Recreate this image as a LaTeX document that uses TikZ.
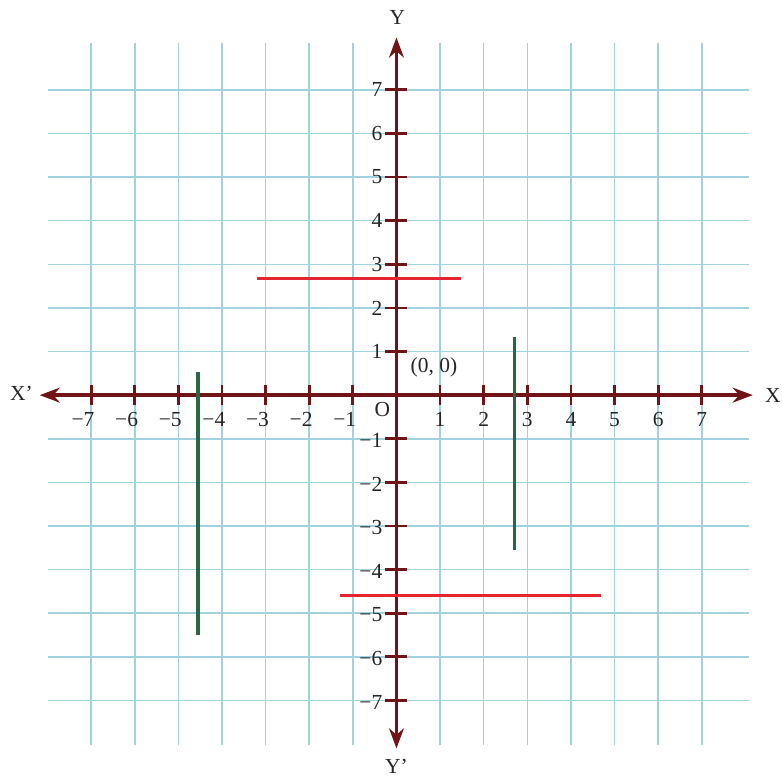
\documentclass[tikz,border=0pt]{standalone}
\usepackage{fontspec}
\setmainfont{Liberation Serif}
\usetikzlibrary{arrows.meta,positioning,calc}
\definecolor{gridblue}{RGB}{160,210,224}
\definecolor{axisred}{RGB}{112,20,24}
\definecolor{linered}{RGB}{228,36,46}
\definecolor{linegreen}{RGB}{38,104,70}

\begin{document}
\begin{tikzpicture}[>={Stealth[length=4.6mm,width=3.4mm]}, font=\fontsize{14}{16}\selectfont]
    \tikzset{
        gridline/.style={draw=gridblue, line width=1pt},
        axis/.style={draw=axisred, line width=2.4pt, <->},
        tickmark/.style={draw=axisred, line width=1.8pt},
        redline/.style={draw=linered, line width=2pt},
        greenline/.style={draw=linegreen, line width=2pt},
        numlbl/.style={inner sep=0.5pt, text=black!85}
    }
    \useasboundingbox (-9.09,-8.81) rectangle (8.84,9.06);

    % grid
    \foreach \i in {-7,...,7} {
        \draw [gridline] (\i,-8.03) -- (\i,8.08);
        \draw [gridline] (-8.0,\i) -- (8.08,\i);
    }

    % axes
    \coordinate (xneg) at (-8.18,0);
    \coordinate (xpos) at (8.17,0);
    \coordinate (ypos) at (0,8.2);
    \coordinate (yneg) at (0,-8.1);
    \node [numlbl] (xl) at (-8.6,0.04) {X'};
    \node [numlbl] (xr) at (8.63,0) {X};
    \node [numlbl] (yt) at (0.02,8.66) {Y};
    \node [numlbl] (yb) at (0,-8.5) {Y'};
    \draw [axis] (xneg) -- (xpos);
    \draw [axis] (yneg) -- (ypos);

    \foreach \i in {1,...,7} {
        \draw [tickmark] (\i,-0.23) -- (\i,0.23);
        \draw [tickmark] (-\i,-0.23) -- (-\i,0.23);
        \draw [tickmark] (-0.26,\i) -- (0.24,\i);
        \draw [tickmark] (-0.26,-\i) -- (0.24,-\i);
        \node [numlbl] at (\i,-0.56) {\i};
        \node [numlbl, anchor=east] at (-\i+0.1,-0.56) {−\i};
        \node [numlbl, anchor=east] at (-0.3,\i) {\i};
        \node [numlbl, anchor=east] at (-0.3,-\i-0.04) {−\i};
    }
    \node [numlbl] (o) at (-0.32,-0.33) {O};
    \node [numlbl] (orig) at (0.86,0.64) {(0, 0)};

    % lines
    \draw [redline] (-3.2,2.68) -- (1.47,2.68);
    \draw [redline] (-1.3,-4.6) -- (4.7,-4.6);
    \draw [greenline] (-4.55,0.53) -- (-4.55,-5.5);
    \draw [greenline] (2.7,1.33) -- (2.7,-3.56);
\end{tikzpicture}
\end{document}
